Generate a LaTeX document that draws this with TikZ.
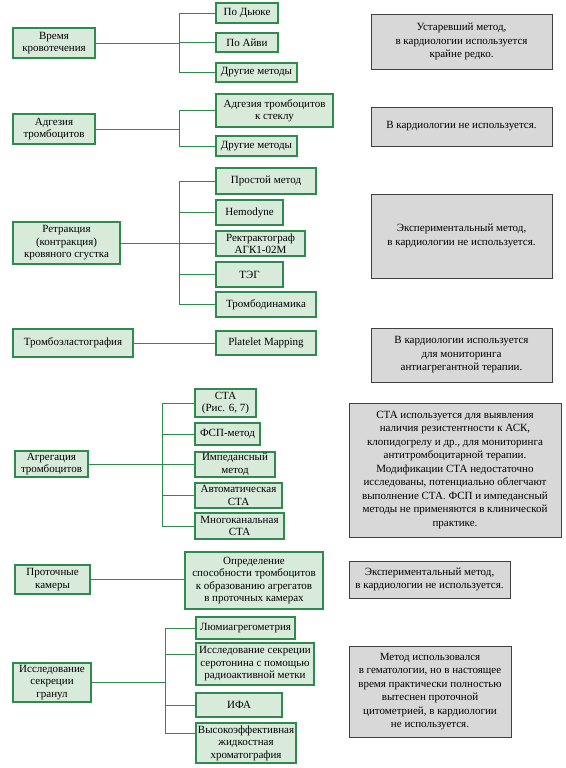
\documentclass[tikz,border=0pt]{standalone}
\usepackage{fontspec}
\setmainfont{Liberation Serif}
\usetikzlibrary{positioning}
\definecolor{grline}{RGB}{46,139,77}
\definecolor{grfill}{RGB}{216,234,218}
\definecolor{notefill}{RGB}{216,216,216}
\tikzset{
	method/.style={draw=grline, fill=grfill, line width=1.1pt, align=center, inner sep=1pt, font=\fontsize{11}{12.5}\selectfont},
	note/.style={draw=black!75, fill=notefill, line width=0.9pt, align=center, inner sep=2pt, font=\fontsize{11}{13.5}\selectfont},
	link/.style={grline, line width=0.9pt}
}

\begin{document}
\begin{tikzpicture}[x=1pt, y=-1pt]
		\useasboundingbox (0,0) rectangle (565,768);
		\node[method, minimum width=82, minimum height=30] (vk) at (54,43) {Время\\кровотечения};
		\node[method, minimum width=62, minimum height=20] (d1) at (247,13) {По Дьюке};
		\node[method, minimum width=62, minimum height=19] (d2) at (247,42.5) {По Айви};
		\node[method, minimum width=81, minimum height=19] (d3) at (256.5,72.5) {Другие методы};
		\node[note, minimum width=181, minimum height=55] (n1) at (461.5,41.5) {Устаревший метод,\\в кардиологии используется\\крайне редко.};
		\coordinate (j1) at (179,43);
		\draw[link] (vk) -- (j1);
		\foreach \b in {d1,d2,d3}
			\draw[link] (j1) |- (\b.west);

		\node[method, minimum width=82, minimum height=30] (at) at (54,129) {Адгезия\\тромбоцитов};
		\node[method, minimum width=117, minimum height=33] (a1) at (274.5,110.5) {Адгезия тромбоцитов\\к стеклу};
		\node[method, minimum width=81, minimum height=20] (a2) at (256.5,146) {Другие методы};
		\node[note, minimum width=181, minimum height=39] (n2) at (461.5,126.5) {В кардиологии не используется.};
		\coordinate (j2) at (179,129);
		\draw[link] (at) -- (j2);
		\foreach \b in {a1,a2}
			\draw[link] (j2) |- (\b.west);

		\node[method, minimum width=107, minimum height=42] (rk) at (66.5,243) {Ретракция\\(контракция)\\кровяного сгустка};
		\node[method, minimum width=100, minimum height=26] (r1) at (266,181) {Простой метод};
		\node[method, minimum width=67, minimum height=25] (r2) at (249.5,212.5) {Hemodyne};
		\node[method, minimum width=89, minimum height=25] (r3) at (260.5,243.5) {Ректрактограф\\АГК1-02М};
		\node[method, minimum width=67, minimum height=25] (r4) at (249.5,274.5) {ТЭГ};
		\node[method, minimum width=100, minimum height=25] (r5) at (266,304.5) {Тромбодинамика};
		\node[note, minimum width=181, minimum height=84] (n3) at (461.5,236) {Экспериментальный метод,\\в кардиологии не используется.};
		\coordinate (j3) at (179,243);
		\draw[link] (rk) -- (j3);
		\foreach \b in {r1,r2,r3,r4,r5}
			\draw[link] (j3) |- (\b.west);

		\node[method, minimum width=120, minimum height=28] (te) at (73,343) {Тромбоэластография};
		\node[method, minimum width=100, minimum height=24] (pm) at (266,343) {Platelet Mapping};
		\node[note, minimum width=181, minimum height=54] (n4) at (461.5,355) {В кардиологии используется\\для мониторинга\\антиагрегантной терапии.};
		\draw[link] (te) -- (pm);

		\node[method, minimum width=73, minimum height=26] (ag) at (51.5,464) {Агрегация\\тромбоцитов};
		\node[method, minimum width=61, minimum height=28] (g1) at (225.5,403) {СТА\\(Рис. 6, 7)};
		\node[method, minimum width=65, minimum height=22] (g2) at (227.5,434) {ФСП-метод};
		\node[method, minimum width=80, minimum height=25] (g3) at (235,464.5) {Импедансный\\метод};
		\node[method, minimum width=87, minimum height=25] (g4) at (238.5,495.5) {Автоматическая\\СТА};
		\node[method, minimum width=89, minimum height=26] (g5) at (239.5,526) {Многоканальная\\СТА};
		\node[note, minimum width=212, minimum height=134] (n5) at (455,470) {СТА используется для выявления\\наличия резистентности к АСК,\\клопидогрелу и др., для мониторинга\\антитромбоцитарной терапии.\\Модификации СТА недостаточно\\исследованы, потенциально облегчают\\выполнение СТА. ФСП и импедансный\\методы не применяются в клинической\\практике.};
		\coordinate (j5) at (162,464);
		\draw[link] (ag) -- (j5);
		\foreach \b in {g1,g2,g3,g4,g5}
			\draw[link] (j5) |- (\b.west);

		\node[method, minimum width=75, minimum height=29] (pk) at (52.5,579.5) {Проточные\\камеры};
		\node[method, minimum width=138, minimum height=57] (pc) at (254,580.5) {Определение\\способности тромбоцитов\\к образованию агрегатов\\в проточных камерах};
		\node[note, minimum width=161, minimum height=37] (n6) at (429.5,579.5) {Экспериментальный метод,\\в кардиологии не используется.};
		\draw[link] (pk) -- (pc.west |- pk);

		\node[method, minimum width=78, minimum height=39] (sg) at (52,682.5) {Исследование\\секреции\\гранул};
		\node[method, minimum width=99, minimum height=22] (s1) at (245.5,628) {Люмиагрегометрия};
		\node[method, minimum width=118, minimum height=42] (s2) at (255,664) {Исследование секреции\\серотонина с помощью\\радиоактивной метки};
		\node[method, minimum width=86, minimum height=24] (s3) at (239,705) {ИФА};
		\node[method, minimum width=100, minimum height=40] (s4) at (246,743) {Высокоэффективная\\жидкостная\\хроматография};
		\node[note, minimum width=162, minimum height=91] (n7) at (430,691.5) {Метод использовался\\в гематологии, но в настоящее\\время практически полностью\\вытеснен проточной\\цитометрией, в кардиологии\\не используется.};
		\coordinate (j7) at (165,682.5);
		\draw[link] (sg) -- (j7);
		\draw[link] (j7) |- (s1.west);
		\draw[link] (j7) |- ([yshift=10pt]s2.west);
		\draw[link] (j7) |- (s3.west);
		\draw[link] (j7) |- ([yshift=10pt]s4.west);
\end{tikzpicture}
\end{document}
